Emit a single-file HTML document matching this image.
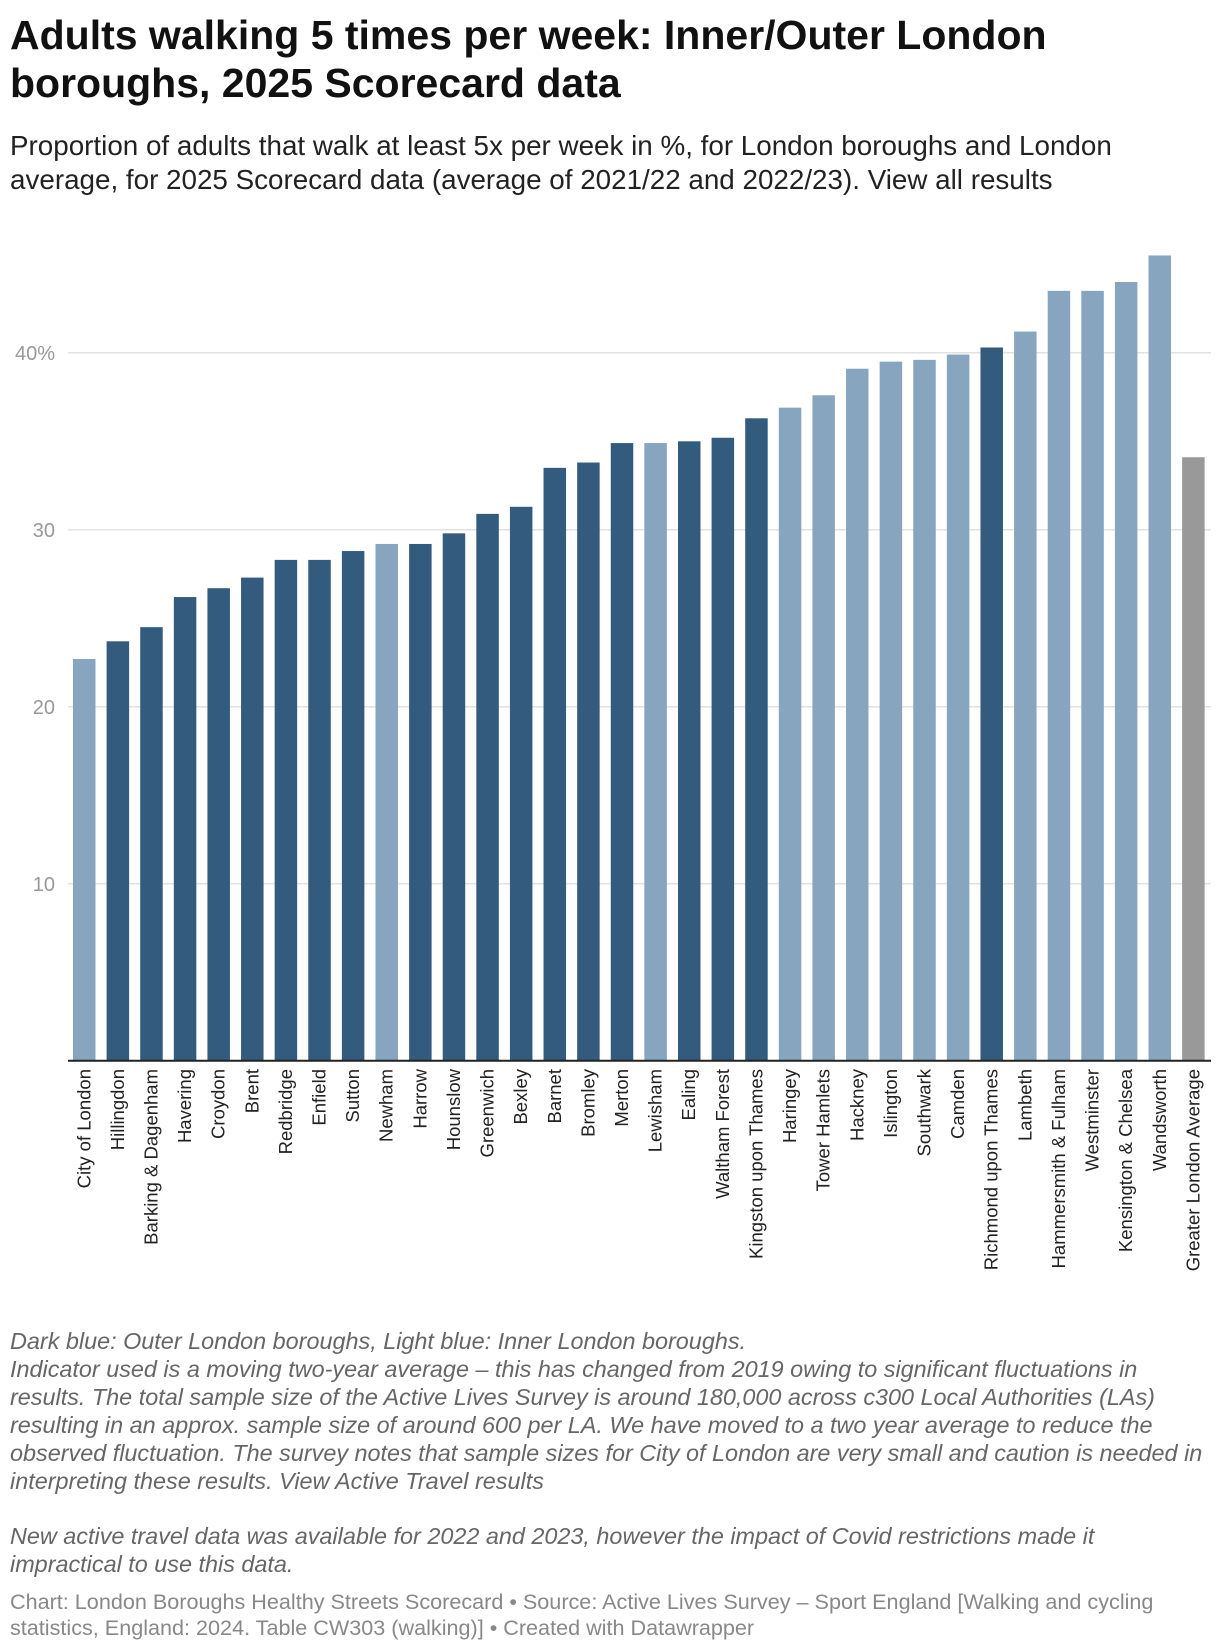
<!DOCTYPE html>
<html><head><meta charset="utf-8"><style>
html,body{margin:0;padding:0;background:#fff;}
body{width:1220px;height:1650px;position:relative;font-family:"Liberation Sans",sans-serif;overflow:hidden;}
#title{position:absolute;left:10px;top:11px;font-size:41px;font-weight:bold;line-height:48px;color:#111;margin:0;white-space:nowrap;}
#sub{position:absolute;left:10px;top:129px;font-size:27.8px;line-height:34px;color:#222;margin:0;white-space:nowrap;}
#notes{position:absolute;left:10px;top:1328px;font-size:23.4px;line-height:27.9px;color:#666;font-style:italic;white-space:nowrap;}
#foot{position:absolute;left:10px;top:1589px;font-size:21.6px;line-height:26px;color:#888;white-space:nowrap;}
svg{position:absolute;left:0;top:0;}
</style></head><body>
<h1 id="title">Adults walking 5 times per week: Inner/Outer London<br>boroughs, 2025 Scorecard data</h1>
<p id="sub">Proportion of adults that walk at least 5x per week in %, for London boroughs and London<br>average, for 2025 Scorecard data (average of 2021/22 and 2022/23). <span>View all results</span></p>
<svg id="chart" width="1220" height="1300"></svg>
<div id="notes">Dark blue: Outer London boroughs, Light blue: Inner London boroughs.<br>Indicator used is a moving two-year average – this has changed from 2019 owing to significant fluctuations in<br>results. The total sample size of the Active Lives Survey is around 180,000 across c300 Local Authorities (LAs)<br>resulting in an approx. sample size of around 600 per LA. We have moved to a two year average to reduce the<br>observed fluctuation. The survey notes that sample sizes for City of London are very small and caution is needed in<br>interpreting these results. <span>View Active Travel results</span><br><br>New active travel data was available for 2022 and 2023, however the impact of Covid restrictions made it<br>impractical to use this data.</div>
<div id="foot">Chart: London Boroughs Healthy Streets Scorecard • Source: Active Lives Survey – Sport England [Walking and cycling<br>statistics, England: 2024. Table CW303 (walking)] • Created with Datawrapper</div>
<script>
const categories=["City of London","Hillingdon","Barking & Dagenham","Havering","Croydon","Brent","Redbridge","Enfield","Sutton","Newham","Harrow","Hounslow","Greenwich","Bexley","Barnet","Bromley","Merton","Lewisham","Ealing","Waltham Forest","Kingston upon Thames","Haringey","Tower Hamlets","Hackney","Islington","Southwark","Camden","Richmond upon Thames","Lambeth","Hammersmith & Fulham","Westminster","Kensington & Chelsea","Wandsworth","Greater London Average"];
const values=[22.7,23.7,24.5,26.2,26.7,27.3,28.3,28.3,28.8,29.2,29.2,29.8,30.9,31.3,33.5,33.8,34.9,34.9,35.0,35.2,36.3,36.9,37.6,39.1,39.5,39.6,39.9,40.3,41.2,43.5,43.5,44.0,45.5,34.1];
const groups=["i","o","o","o","o","o","o","o","o","i","o","o","o","o","o","o","o","i","o","o","o","i","i","i","i","i","i","o","i","i","i","i","i","a"];
const ticks=[10,20,30,40];
const tickLabels=["10","20","30","40%"];
const NS="http://www.w3.org/2000/svg";
const svg=document.getElementById('chart');
const baseY=1060.8, unit=17.70, left=68, right=1211, x0=73, pitch=33.61, bw=22.5;
const y=v=>baseY-v*unit;
const x=i=>x0+i*pitch;
const colors={i:"#87a5bf",o:"#335b7e",a:"#999999"};
function mk(t,a){const e=document.createElementNS(NS,t);for(const k in a)e.setAttribute(k,a[k]);svg.appendChild(e);return e;}
ticks.forEach((t,i)=>{
  const g=mk('line',{x1:left,x2:right,y1:y(t),y2:y(t),stroke:"#e2e2e2","stroke-width":1.5});
  
  
  const tx=mk('text',{x:55,y:y(t)+7,"text-anchor":"end","font-size":20,fill:"#999","font-family":"Liberation Sans, sans-serif"});
  tx.textContent=tickLabels[i];
  
  
});
categories.forEach((c,i)=>{
  const r=mk('rect',{x:x(i),y:y(values[i]),width:bw,height:values[i]*unit,fill:colors[groups[i]]});
  
  
  const cx=x(i)+bw/2+6;
  const t=mk('text',{x:cx,y:1069,"text-anchor":"end","font-size":18.5,fill:"#222","font-family":"Liberation Sans, sans-serif",transform:`rotate(-90 ${cx} 1069)`});
  t.textContent=c;
  
  
});
const ax=mk('line',{x1:left,x2:right,y1:baseY,y2:baseY,stroke:"#222","stroke-width":2});


</script>
</body></html>
